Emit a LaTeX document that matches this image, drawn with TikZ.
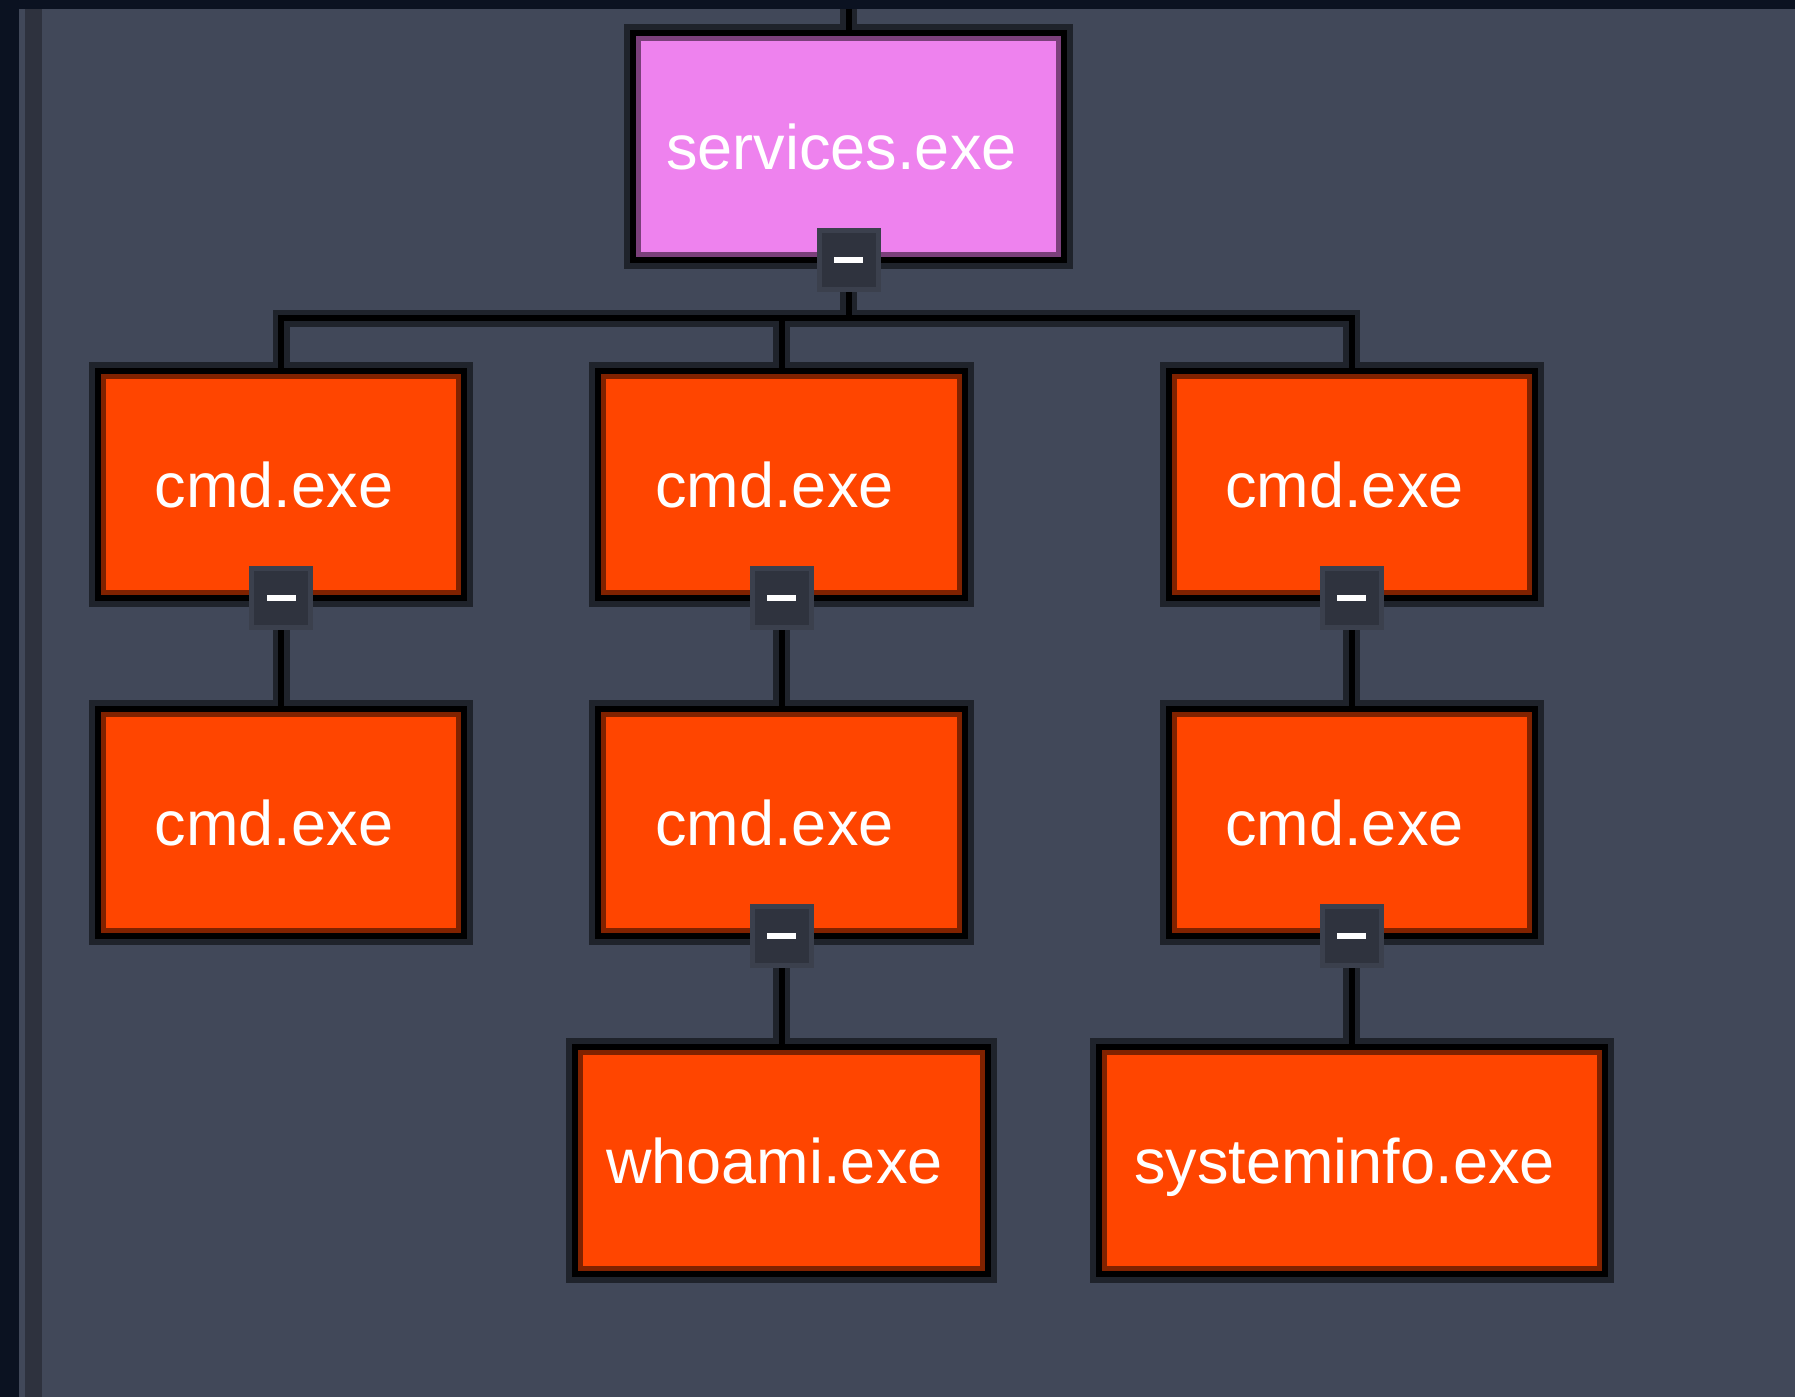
\documentclass[tikz,border=0pt]{standalone}
\usepackage{fontspec}
\setmainfont{Liberation Sans}
\definecolor{bgc}{HTML}{414859}
\definecolor{navy}{HTML}{0B1221}
\definecolor{stripc}{HTML}{2E323E}
\definecolor{haloc}{HTML}{1F232B}
\definecolor{pinkc}{HTML}{EE82EE}
\definecolor{pinkd}{HTML}{7B407B}
\definecolor{orc}{HTML}{FF4500}
\definecolor{ord}{HTML}{802200}
\definecolor{togring}{HTML}{3B404D}
\definecolor{togfill}{HTML}{2F333E}
\newcommand\lbl[1]{\hspace*{-14pt}#1}
\tikzset{
  proc/.style={rectangle, inner sep=0pt, line width=6pt, draw=black, text=white,
    font=\fontsize{63}{63}\selectfont, text height=45pt, text depth=0pt,
    minimum height=227pt, preaction={draw=haloc, line width=18pt}},
  pbox/.style={path picture={\draw[line width=16pt,#1] (path picture bounding box.south west) rectangle (path picture bounding box.north east);}},
  pinkbox/.style={proc, fill=pinkc, pbox=pinkd},
  orbox/.style={proc, fill=orc, pbox=ord},
  tog/.style={rectangle, minimum size=59pt, inner sep=0pt, line width=5pt, draw=togring, fill=togfill, yshift=3pt},
  halo/.style={line width=17pt, draw=haloc, line join=miter},
  wire/.style={line width=6pt, draw=black, line join=miter},
}
\newcommand\minus{\textcolor{white}{\rule{29pt}{6pt}}}
\begin{document}
\begin{tikzpicture}[x=1pt,y=-1pt]
\useasboundingbox (0,0) rectangle (1795,1397);
\fill[bgc] (0,0) rectangle (1795,1397);
\fill[navy] (0,0) rectangle (1795,9);
\fill[navy] (0,0) rectangle (19,1397);
\fill[stripc] (25,9) rectangle (42,1397);

\node[pinkbox, minimum width=431pt] (svc) at (848.5,146.5) {\lbl{services.exe}};
\node[orbox, minimum width=366pt] (a1) at (281,484.5) {\lbl{cmd.exe}};
\node[orbox, minimum width=367pt] (b1) at (781.5,484.5) {\lbl{cmd.exe}};
\node[orbox, minimum width=366pt] (c1) at (1351.5,484.5) {\lbl{cmd.exe}};
\node[orbox, minimum width=366pt] (a2) at (281,822.5) {\lbl{cmd.exe}};
\node[orbox, minimum width=367pt] (b2) at (781.5,822.5) {\lbl{cmd.exe}};
\node[orbox, minimum width=366pt] (c2) at (1351.5,822.5) {\lbl{cmd.exe}};
\node[orbox, minimum width=413pt] (b3) at (781.5,1160.5) {\lbl{whoami.exe}};
\node[orbox, minimum width=506pt] (c3) at (1351.5,1160.5) {\lbl{systeminfo.exe}};

\node[tog] (stog) at (svc.south) {\minus};
\node[tog] (atog) at (a1.south) {\minus};
\node[tog] (btog) at (b1.south) {\minus};
\node[tog] (ctog) at (c1.south) {\minus};
\node[tog] (b2tog) at (b2.south) {\minus};
\node[tog] (c2tog) at (c2.south) {\minus};

\coordinate (top) at (848.5,9);
\coordinate (bar) at (848.5,318);

\foreach \s in {halo,wire}{
  \draw[\s] (top) -- (svc.north);
  \draw[\s] (stog.south) -- (stog.south |- bar) -| (a1.north);
  \draw[\s] (stog.south) -- (stog.south |- bar) -| (b1.north);
  \draw[\s] (stog.south) -- (stog.south |- bar) -| (c1.north);
  \draw[\s] (atog.south) -- (atog.south |- a2.north);
  \draw[\s] (btog.south) -- (btog.south |- b2.north);
  \draw[\s] (ctog.south) -- (ctog.south |- c2.north);
  \draw[\s] (b2tog.south) -- (b2tog.south |- b3.north);
  \draw[\s] (c2tog.south) -- (c2tog.south |- c3.north);
}
\end{tikzpicture}
\end{document}
